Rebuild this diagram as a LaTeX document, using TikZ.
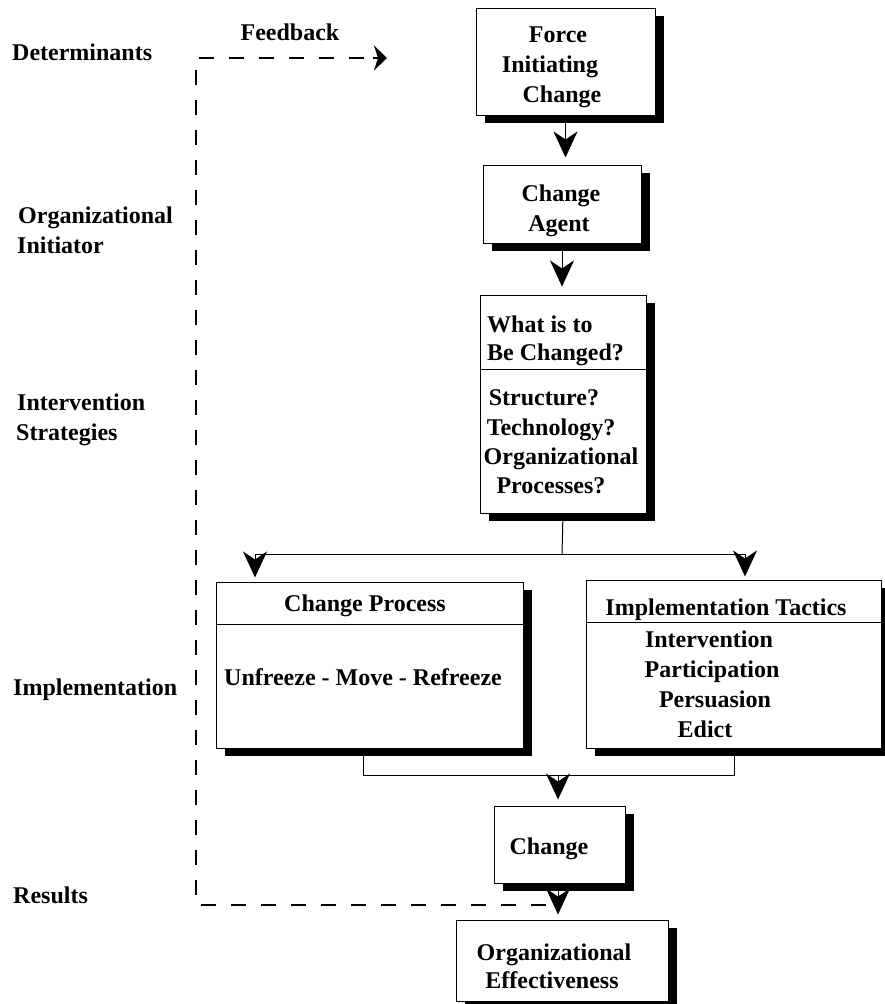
\documentclass[tikz,border=0pt]{standalone}
\usepackage{fontspec}
\setmainfont{Liberation Serif}
\usetikzlibrary{arrows.meta,shadows,calc}
\begin{document}
\begin{tikzpicture}[x=1pt,y=-1pt,
  every node/.style={font=\fontsize{24}{30}\selectfont\bfseries, inner sep=0pt},
  box/.style={draw=black, line width=1pt, fill=white,
    general shadow={fill=black, shadow xshift=8.5pt, shadow yshift=-8pt}},
  txt/.style={anchor=base},
  lbl/.style={anchor=base west},
  link/.style={draw=black, line width=1pt},
  arr/.style={link, -{Stealth[length=26pt,width=24pt,inset=8pt]}},
  fb/.style={draw=black, line width=1.1pt, dash pattern=on 15pt off 15pt},
  fbtip/.style={-{Stealth[length=13pt,width=25pt,inset=4pt]}},
]
\path[use as bounding box] (0,0) rectangle (884,1004);

% ---- boxes of the flow ----
\node[box, minimum width=179pt, minimum height=107pt] (force) at (565.5,61.5) {};
\node[box, minimum width=158pt, minimum height=78pt]  (agent) at (562,204) {};
\node[box, minimum width=166pt, minimum height=218pt] (what)  at (563,404) {};
\node[box, minimum width=307pt, minimum height=166pt] (proc)  at (369.5,665) {};
\node[box, minimum width=295pt, minimum height=168pt] (tact)  at (733.5,664) {};
\node[box, minimum width=131pt, minimum height=77pt]  (chg)   at (559.5,844.5) {};
\node[box, minimum width=212pt, minimum height=81pt]  (eff)   at (562,960.5) {};

% header dividers
\draw[link] ($(what.north west)+(0,75)$) -- ($(what.north east)+(0,75)$);
\draw[link] ($(proc.north west)+(0,43)$) -- ($(proc.north east)+(0,43)$);
\draw[link] ($(tact.north west)+(0,43)$) -- ($(tact.north east)+(0,43)$);

% ---- box texts ----
\node[txt] at (558,42)  {Force};
\node[txt] at (550,72)  {Initiating};
\node[txt] at (562,102) {Change};

\node[txt] at (561,201) {Change};
\node[txt] at (559,231) {Agent};

\node[lbl] at (487,332) {What is to};
\node[lbl] at (487,360) {Be Changed?};
\node[txt] at (544,405) {Structure?};
\node[txt] at (551,435) {Technology?};
\node[txt] at (561,464) {Organizational};
\node[txt] at (551,493) {Processes?};

\node[txt] at (365,611) {Change Process};
\node[txt] at (363,685) {Unfreeze - Move - Refreeze};

\node[txt] at (726,615) {Implementation Tactics};
\node[txt] at (709,647) {Intervention};
\node[txt] at (712,677) {Participation};
\node[txt] at (715,707) {Persuasion};
\node[txt] at (705,737) {Edict};

\node[txt] at (549,854) {Change};

\node[txt] at (554,960) {Organizational};
\node[txt] at (552,988) {Effectiveness};

% ---- stage labels ----
\node[lbl] at (12,60)  {Determinants};
\node[lbl] at (18,223) {Organizational};
\node[lbl] at (17,253) {Initiator};
\node[lbl] at (17,410) {Intervention};
\node[lbl] at (16,440) {Strategies};
\node[lbl] at (13,695) {Implementation};
\node[lbl] at (13,903) {Results};
\node[txt] at (290,40) {Feedback};

% ---- connectors ----
\draw[arr, shorten >=7pt] (force.south) -- (force.south |- agent.north);
\draw[arr, shorten >=8pt] (agent.south) -- (agent.south |- what.north);

\coordinate (split)  at (562,554);
\coordinate (splitL) at (255,554);
\coordinate (splitR) at (745,554);
\draw[link] (what.south) -- (split);
\draw[link] (splitL) -- (splitR);
\draw[arr, shorten >=4pt] (splitL) -- (splitL |- proc.north);
\draw[arr, shorten >=3pt] (splitR) -- (splitR |- tact.north);

\coordinate (mergeL) at (363,775);
\coordinate (mergeR) at (734,775);
\coordinate (mergeC) at (558,775);
\draw[link] (proc.south -| mergeL) -- (mergeL) -- (mergeR) -- (tact.south -| mergeR);
\draw[arr, shorten >=6pt] (mergeC) -- (mergeC |- chg.north);
\draw[arr, shorten >=5pt] (chg.south -| mergeC) -- (mergeC |- eff.north);

% feedback loop
\coordinate (fbStart) at (546,905);
\coordinate (fbLow)   at (196,905);
\coordinate (fbHigh)  at (196,58);
\coordinate (fbEnd)   at (387,58);
\draw[fb] (fbStart) -- (fbLow) -- (fbHigh) -- ($(fbEnd)+(-12,0)$);
\draw[fbtip, line width=1.1pt] ($(fbEnd)+(-14,0)$) -- (fbEnd);
\end{tikzpicture}
\end{document}
